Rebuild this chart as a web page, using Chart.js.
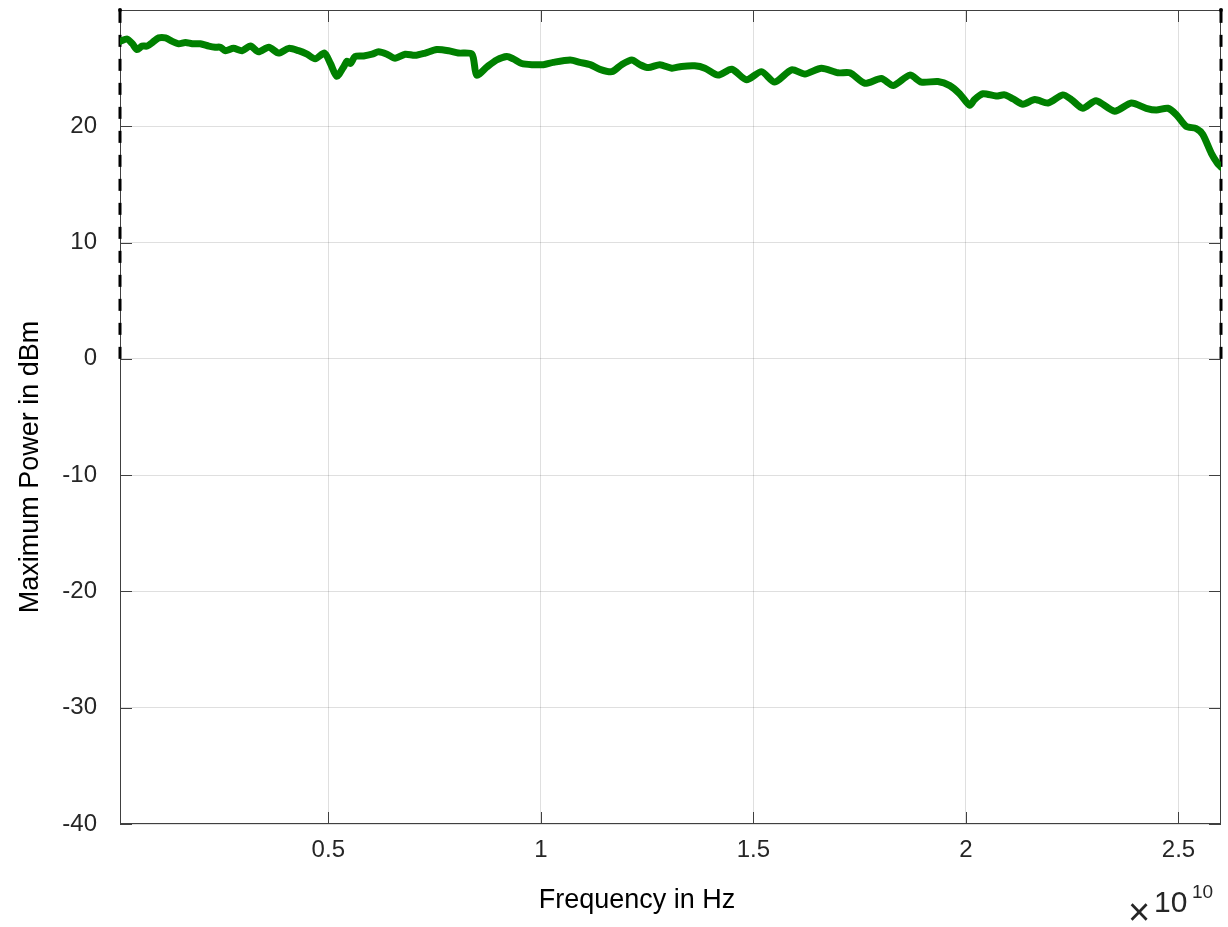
<!DOCTYPE html>
<html>
<head>
	<meta charset="utf-8">
	<title>Maximum Power vs Frequency</title>
	<script src="https://cdn.jsdelivr.net/npm/chart.js@4.4.1/dist/chart.umd.min.js"></script>
	<style>
		html, body {
			margin: 0;
			padding: 0;
			background: #fff;
		}
		#wrap {
			position: relative;
			width: 1228px;
			height: 927px;
		}
	</style>
</head>
<body>
<div id="wrap">
	<canvas id="myChart" width="1228" height="927"></canvas>
</div>
<script>
	// frequency in GHz
	const freqGHz = [
		0.1, 0.27, 0.39, 0.50, 0.62, 0.74, 0.86, 1.01, 1.17, 1.33,
		1.48, 1.64, 1.80, 1.99, 2.19, 2.34, 2.46, 2.58, 2.77, 2.97,
		3.17, 3.36, 3.60, 3.83, 4.07, 4.30, 4.50, 4.69, 4.91, 5.05,
		5.20, 5.36, 5.44, 5.52, 5.63, 5.83, 6.03, 6.18, 6.38, 6.57,
		6.81, 7.04, 7.28, 7.55, 7.83, 8.06, 8.38, 8.49, 8.73, 8.96,
		9.20, 9.35, 9.55, 9.79, 10.06, 10.29, 10.69, 10.92, 11.16, 11.39,
		11.67, 11.90, 12.14, 12.33, 12.53, 12.80, 13.08, 13.31, 13.62, 13.86,
		14.17, 14.49, 14.84, 15.19, 15.50, 15.90, 16.21, 16.60, 16.99, 17.27,
		17.62, 18.01, 18.29, 18.68, 18.95, 19.34, 19.62, 19.85, 20.09, 20.20,
		20.40, 20.71, 20.91, 21.11, 21.34, 21.62, 21.93, 22.28, 22.48, 22.75,
		23.06, 23.50, 23.89, 24.24, 24.48, 24.75, 24.95, 25.18, 25.42, 25.57,
		25.77, 25.92, 26.0
	];
	// maximum power in dBm
	const maxPower = [
		27.3, 27.5, 27.1, 26.6, 26.9, 26.9, 27.2, 27.6, 27.6, 27.3,
		27.1, 27.2, 27.1, 27.1, 26.9, 26.8, 26.8, 26.5, 26.7, 26.5,
		26.9, 26.4, 26.8, 26.3, 26.7, 26.5, 26.2, 25.8, 26.3, 25.4,
		24.3, 25.1, 25.6, 25.4, 26.0, 26.05, 26.2, 26.4, 26.2, 25.85,
		26.2, 26.1, 26.3, 26.6, 26.5, 26.3, 26.2, 24.4, 25.1, 25.7,
		26.0, 25.8, 25.4, 25.3, 25.3, 25.5, 25.7, 25.5, 25.3, 24.9,
		24.7, 25.3, 25.7, 25.3, 25.05, 25.3, 25.0, 25.15, 25.2, 25.0,
		24.4, 24.9, 24.0, 24.7, 23.8, 24.85, 24.5, 25.0, 24.6, 24.6,
		23.7, 24.1, 23.5, 24.4, 23.8, 23.85, 23.5, 22.8, 21.8, 22.3,
		22.8, 22.6, 22.7, 22.35, 21.9, 22.3, 22.0, 22.7, 22.3, 21.55,
		22.2, 21.3, 22.0, 21.55, 21.4, 21.55, 21.0, 20.0, 19.8, 19.3,
		17.7, 16.8, 16.5
	];
	// dashed limit lines (band edges)
	const limitFreq = [1e8, 2.6e10];
	const limitPower = [0, 30];

	const xTicks = [0.5e10, 1e10, 1.5e10, 2e10, 2.5e10];
	const xTickLabels = ['0.5', '1', '1.5', '2', '2.5'];
	const yTicks = [-40, -30, -20, -10, 0, 10, 20];

	const FONT = '"Liberation Sans", Arial, Helvetica, sans-serif';
	const AXIS = '#404040';

	const boxPlugin = {
		id: 'box',
		beforeDatasetsDraw(chart) {
			const ctx = chart.ctx, a = chart.chartArea;
			const x = chart.scales.x, y = chart.scales.y;
			ctx.save();
			ctx.strokeStyle = AXIS;
			ctx.lineWidth = 1;
			ctx.strokeRect(a.left + 0.5, a.top + 0.5, a.right - a.left - 1, a.bottom - a.top - 1);
			ctx.beginPath();
			xTicks.forEach(v => {
				const px = Math.round(x.getPixelForValue(v)) + 0.5;
				ctx.moveTo(px, a.bottom); ctx.lineTo(px, a.bottom - 12);
				ctx.moveTo(px, a.top); ctx.lineTo(px, a.top + 12);
			});
			yTicks.forEach(v => {
				const py = Math.round(y.getPixelForValue(v)) + 0.5;
				ctx.moveTo(a.left, py); ctx.lineTo(a.left + 12, py);
				ctx.moveTo(a.right, py); ctx.lineTo(a.right - 12, py);
			});
			ctx.stroke();
			ctx.restore();
		},
		afterDraw(chart) {
			const ctx = chart.ctx;
			ctx.save();
			ctx.fillStyle = '#000';
			ctx.textAlign = 'center';
			ctx.textBaseline = 'middle';
			ctx.font = '27px ' + FONT;
			ctx.fillText('Frequency in Hz', 637, 901);
			ctx.translate(31, 467);
			ctx.rotate(-Math.PI / 2);
			ctx.fillText('Maximum Power in dBm', 0, 0);
			ctx.restore();

			ctx.save();
			ctx.fillStyle = '#262626';
			ctx.textBaseline = 'alphabetic';
			ctx.textAlign = 'left';
			ctx.font = '38px ' + FONT;
			ctx.fillText('\u00d7', 1128, 925);
			ctx.font = '30px ' + FONT;
			ctx.fillText('10', 1154, 912);
			ctx.font = '19px ' + FONT;
			ctx.fillText('10', 1192, 898);
			ctx.restore();
		}
	};

	const ctx = document.getElementById('myChart').getContext('2d');
	const myChart = new Chart(ctx, {
		type: 'line',
		data: {
			datasets: [
				{
					label: 'Maximum Power',
					data: freqGHz.map((f, i) => ({x: f * 1e9, y: maxPower[i]})),
					borderColor: '#008000',
					borderWidth: 7,
					pointRadius: 0,
					tension: 0.25,
					borderJoinStyle: 'round',
					borderCapStyle: 'round',
					fill: false
				},
				{
					label: 'lower edge',
					data: limitPower.map(p => ({x: limitFreq[0], y: p})),
					borderColor: '#000',
					borderWidth: 3,
					borderDash: [12, 12],
					pointRadius: c => c.dataIndex === 1 ? 2 : 0,
					pointBackgroundColor: '#000',
					pointBorderWidth: 0,
					clip: false
				},
				{
					label: 'upper edge',
					data: limitPower.map(p => ({x: limitFreq[1], y: p})),
					borderColor: '#000',
					borderWidth: 3,
					borderDash: [12, 12],
					pointRadius: c => c.dataIndex === 1 ? 2 : 0,
					pointBackgroundColor: '#000',
					pointBorderWidth: 0,
					clip: false
				}
			]
		},
		options: {
			responsive: false,
			animation: false,
			devicePixelRatio: 1,
			layout: {autoPadding: false, padding: {left: 0, top: 10, right: 7, bottom: 0}},
			plugins: {
				legend: {display: false},
				tooltip: {enabled: false}
			},
			scales: {
				x: {
					type: 'linear',
					min: 1e8,
					max: 2.6e10,
					afterBuildTicks: s => { s.ticks = xTicks.map(v => ({value: v})); },
					afterFit: s => {
						s.height = 103;
						s.paddingLeft = 0; s.paddingRight = 0;
					},
					grid: {color: 'rgba(38,38,38,0.15)', drawTicks: false},
					border: {display: false},
					ticks: {
						padding: 12,
						maxRotation: 0,
						autoSkip: false,
						color: '#262626',
						font: {size: 24, family: FONT},
						callback: v => xTickLabels[xTicks.indexOf(v)]
					}
				},
				y: {
					min: -40,
					max: 30,
					afterBuildTicks: s => { s.ticks = yTicks.map(v => ({value: v})); },
					afterFit: s => {
						s.width = 120;
						s.paddingTop = 0; s.paddingBottom = 0;
					},
					grid: {color: 'rgba(38,38,38,0.15)', drawTicks: false},
					border: {display: false},
					ticks: {
						padding: 23,
						color: '#262626',
						font: {size: 24, family: FONT}
					}
				}
			}
		},
		plugins: [boxPlugin]
	});
</script>
</body>
</html>
